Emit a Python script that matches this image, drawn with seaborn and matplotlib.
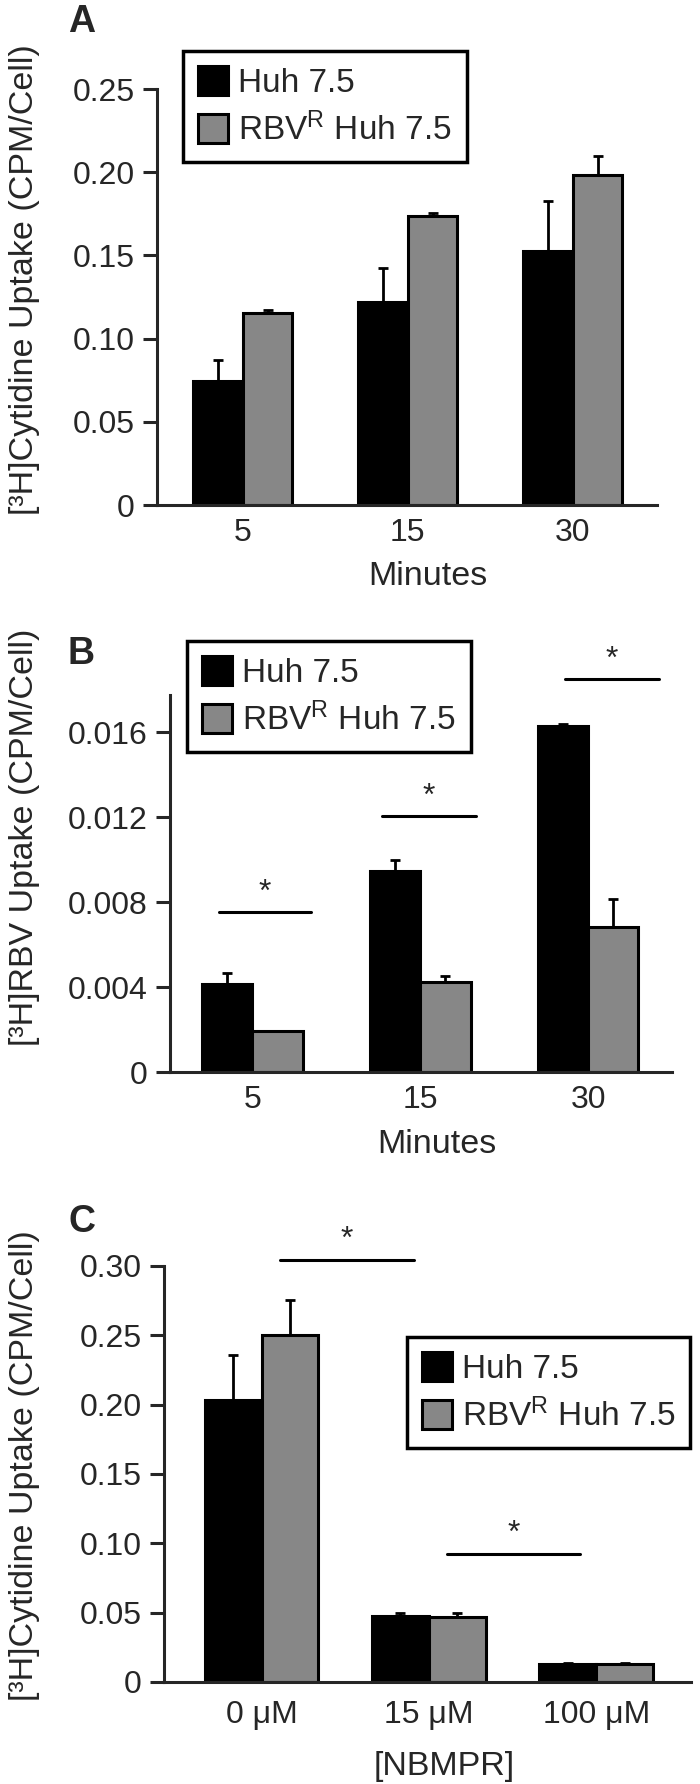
import numpy as np
import pandas as pd
import matplotlib
matplotlib.use('Agg')
import matplotlib.pyplot as plt
import seaborn as sns
from matplotlib.patches import Patch

# values
minutes = ['5', '15', '30']
nbmpr = ['0 μM', '15 μM', '100 μM']

a_huh = [0.0745, 0.1223, 0.1528]
a_huh_err = [0.0128, 0.0200, 0.0300]
a_rbv = [0.1152, 0.1734, 0.1985]
a_rbv_err = [0.0020, 0.0023, 0.0114]

b_huh = [0.00412, 0.00944, 0.01626]
b_huh_err = [0.00052, 0.00056, 0.00011]
b_rbv = [0.00191, 0.00423, 0.00683]
b_rbv_err = [0.00004, 0.00027, 0.00131]

c_huh = [0.203, 0.0474, 0.0133]
c_huh_err = [0.0326, 0.0024, 0.0003]
c_rbv = [0.2504, 0.0468, 0.0127]
c_rbv_err = [0.0252, 0.0027, 0.0012]

# significance bars: (x start, x end, y)
b_sig = [(-0.20, 0.35, 0.00751), (0.77, 1.33, 0.01205), (1.86, 2.42, 0.01849)]
c_sig = [(0.11, 0.91, 0.3043), (1.11, 1.905, 0.0923)]

series = ['Huh 7.5', r'RBV$^{\mathrm{R}}$ Huh 7.5']
gray = '#878787'

sns.set_style('ticks')
plt.rcParams['font.family'] = ['Liberation Sans', 'DejaVu Sans']
plt.rcParams['mathtext.fontset'] = 'custom'
plt.rcParams['mathtext.rm'] = 'Liberation Sans'
plt.rcParams['mathtext.it'] = 'Liberation Sans:italic'
plt.rcParams['mathtext.bf'] = 'Liberation Sans:bold'

FS = 23      # tick labels
LAB = 24.5   # axis labels
LW = 2.2

fig = plt.figure(figsize=(7, 17.84), dpi=100)


def draw_panel(ax, cats, huh, huh_err, rbv, rbv_err, width):
    df = pd.DataFrame({'x': cats * 2,
                       'value': huh + rbv,
                       'cell': [series[0]] * 3 + [series[1]] * 3})
    sns.barplot(data=df, x='x', y='value', hue='cell', order=cats,
                hue_order=series, palette=['black', gray], width=width,
                edgecolor='black', linewidth=LW, errorbar=None,
                legend=False, ax=ax)
    for cont, err in zip(ax.containers, [huh_err, rbv_err]):
        xs = [p.get_x() + p.get_width() / 2 for p in cont.patches]
        ys = [p.get_height() for p in cont.patches]
        ax.errorbar(xs, ys, yerr=[np.zeros(len(err)), err], fmt='none',
                    ecolor='black', elinewidth=2, capsize=3.5, capthick=2,
                    zorder=3)
    sns.despine(ax=ax)
    for s in ['left', 'bottom']:
        ax.spines[s].set_linewidth(LW)
    ax.tick_params(axis='y', length=10, width=LW, labelsize=FS, pad=6)
    ax.tick_params(axis='x', length=0, labelsize=FS, pad=9)
    ax.set_ylabel('')
    ax.set_xlabel('')


def add_legend(ax, x, y):
    handles = [Patch(facecolor='black', edgecolor='black', linewidth=LW),
               Patch(facecolor=gray, edgecolor='black', linewidth=LW)]
    leg = ax.legend(handles, series, loc='upper left', bbox_to_anchor=(x, y),
                    borderaxespad=0, fontsize=24, frameon=True,
                    fancybox=False, framealpha=1, handlelength=0.9,
                    handleheight=0.95, handletextpad=0.3, labelspacing=0.4,
                    borderpad=0.45)
    leg.get_frame().set_edgecolor('black')
    leg.get_frame().set_linewidth(2.5)


def add_sig(ax, sigs, unit):
    for x0, x1, y in sigs:
        ax.plot([x0, x1], [y, y], color='black', lw=LW, clip_on=False)
        ax.text((x0 + x1) / 2, y + unit, '*', ha='center', va='bottom',
                fontsize=FS, clip_on=False)


# Panel A
axA = fig.add_axes([0.2243, 0.7169, 0.7143, 0.2332])
draw_panel(axA, minutes, a_huh, a_huh_err, a_rbv, a_rbv_err, 0.6)
axA.set_xlim(-0.52, 2.51)
axA.set_ylim(0, 0.25)
axA.set_yticks([0, 0.05, 0.10, 0.15, 0.20, 0.25])
axA.set_yticklabels(['0', '0.05', '0.10', '0.15', '0.20', '0.25'])
axA.set_ylabel('[³H]Cytidine Uptake (CPM/Cell)', fontsize=LAB)
axA.yaxis.set_label_coords(-0.234, 0.541)
axA.set_xlabel('Minutes', fontsize=LAB)
axA.xaxis.set_label_coords(0.542, -0.135)
add_legend(axA, 0.052, 1.091)

# Panel B
axB = fig.add_axes([0.2429, 0.3991, 0.7171, 0.2113])
draw_panel(axB, minutes, b_huh, b_huh_err, b_rbv, b_rbv_err, 0.6)
axB.set_xlim(-0.49, 2.5)
axB.set_ylim(0, 0.01774)
axB.set_yticks([0, 0.004, 0.008, 0.012, 0.016])
axB.set_yticklabels(['0', '0.004', '0.008', '0.012', '0.016'])
axB.set_ylabel('[³H]RBV Uptake (CPM/Cell)', fontsize=LAB)
axB.yaxis.set_label_coords(-0.259, 0.623)
axB.set_xlabel('Minutes', fontsize=LAB)
axB.xaxis.set_label_coords(0.532, -0.15)
add_legend(axB, 0.034, 1.143)
add_sig(axB, b_sig, 0.0002)

# Panel C
axC = fig.add_axes([0.2343, 0.0572, 0.7529, 0.2332])
draw_panel(axC, nbmpr, c_huh, c_huh_err, c_rbv, c_rbv_err, 0.68)
axC.set_xlim(-0.583, 2.567)
axC.set_ylim(0, 0.30)
axC.set_yticks([0, 0.05, 0.10, 0.15, 0.20, 0.25, 0.30])
axC.set_yticklabels(['0', '0.05', '0.10', '0.15', '0.20', '0.25', '0.30'])
axC.tick_params(axis='x', pad=13)
axC.set_ylabel('[³H]Cytidine Uptake (CPM/Cell)', fontsize=LAB)
axC.yaxis.set_label_coords(-0.235, 0.52)
axC.set_xlabel('[NBMPR]', fontsize=LAB)
axC.xaxis.set_label_coords(0.531, -0.165)
add_legend(axC, 0.461, 0.829)
add_sig(axC, c_sig, 0.004)

# panel letters
for letter, ybase in [('A', 32), ('B', 664), ('C', 1232)]:
    fig.text(68 / 700, 1 - ybase / 1784, letter, fontsize=27,
             fontweight='bold', va='baseline', ha='left')

fig.savefig('out.png', dpi=100)
